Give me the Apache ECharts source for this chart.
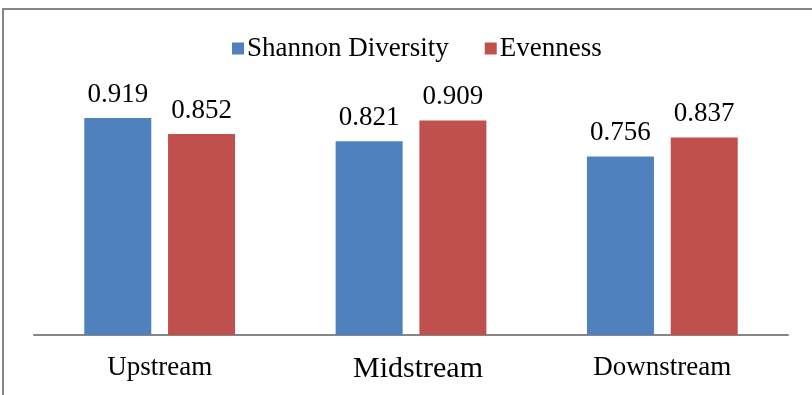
<!DOCTYPE html>
<html>
<head>
<meta charset="utf-8">
<script src="https://cdn.jsdelivr.net/npm/echarts@6/dist/echarts.min.js"></script>
<style>
  html, body { margin: 0; padding: 0; background: #fff; }
  #chart { width: 812px; height: 395px; }
</style>
</head>
<body>
<div id="chart"></div>
<script>
var sites = ['Upstream', 'Midstream', 'Downstream'];
var shannon = [0.919, 0.821, 0.756];
var evenness = [0.852, 0.909, 0.837];

var chartDom = document.getElementById('chart');
var myChart = echarts.init(chartDom);

var serif = '"Liberation Serif", "DejaVu Serif", serif';

var option = {
  animation: false,
  textStyle: { fontFamily: serif },
  color: ['#4F81BD', '#C0504D'],
  graphic: [
    {
      type: 'rect',
      shape: { x: 3, y: 9, width: 900, height: 500 },
      style: { fill: 'none', stroke: '#868686', lineWidth: 2 }
    }
  ],
  legend: {
    top: 30,
    left: 227,
    icon: 'rect',
    itemWidth: 12,
    itemHeight: 12,
    itemGap: 36,
    textStyle: { fontFamily: serif, fontSize: 27, color: '#000', padding: [0, 0, 0, -2] },
    data: ['Shannon Diversity', 'Evenness']
  },
  grid: { left: 34, right: 24, top: 99, bottom: 60 },
  xAxis: {
    type: 'category',
    data: sites,
    axisLine: { lineStyle: { color: '#868686', width: 2 } },
    axisTick: { show: false },
    axisLabel: {
      margin: 19,
      color: '#000',
      fontFamily: serif,
      fontSize: 27,
      formatter: function (v) {
        return v === 'Midstream' ? '{big|' + v + '}' : v;
      },
      rich: {
        big: { fontSize: 30, fontFamily: serif, color: '#000', padding: [0, 0, 0, 14] }
      }
    }
  },
  yAxis: {
    type: 'value',
    min: 0,
    max: 1,
    show: false,
    splitLine: { show: false }
  },
  series: [
    {
      name: 'Shannon Diversity',
      type: 'bar',
      data: shannon,
      barWidth: 67,
      barGap: '25%',
      label: {
        show: true,
        position: 'top',
        distance: 10,
        color: '#000',
        fontFamily: serif,
        fontSize: 27
      }
    },
    {
      name: 'Evenness',
      type: 'bar',
      data: evenness,
      barWidth: 67,
      barGap: '25%',
      label: {
        show: true,
        position: 'top',
        distance: 10,
        color: '#000',
        fontFamily: serif,
        fontSize: 27
      }
    }
  ]
};

myChart.setOption(option);
</script>
</body>
</html>
